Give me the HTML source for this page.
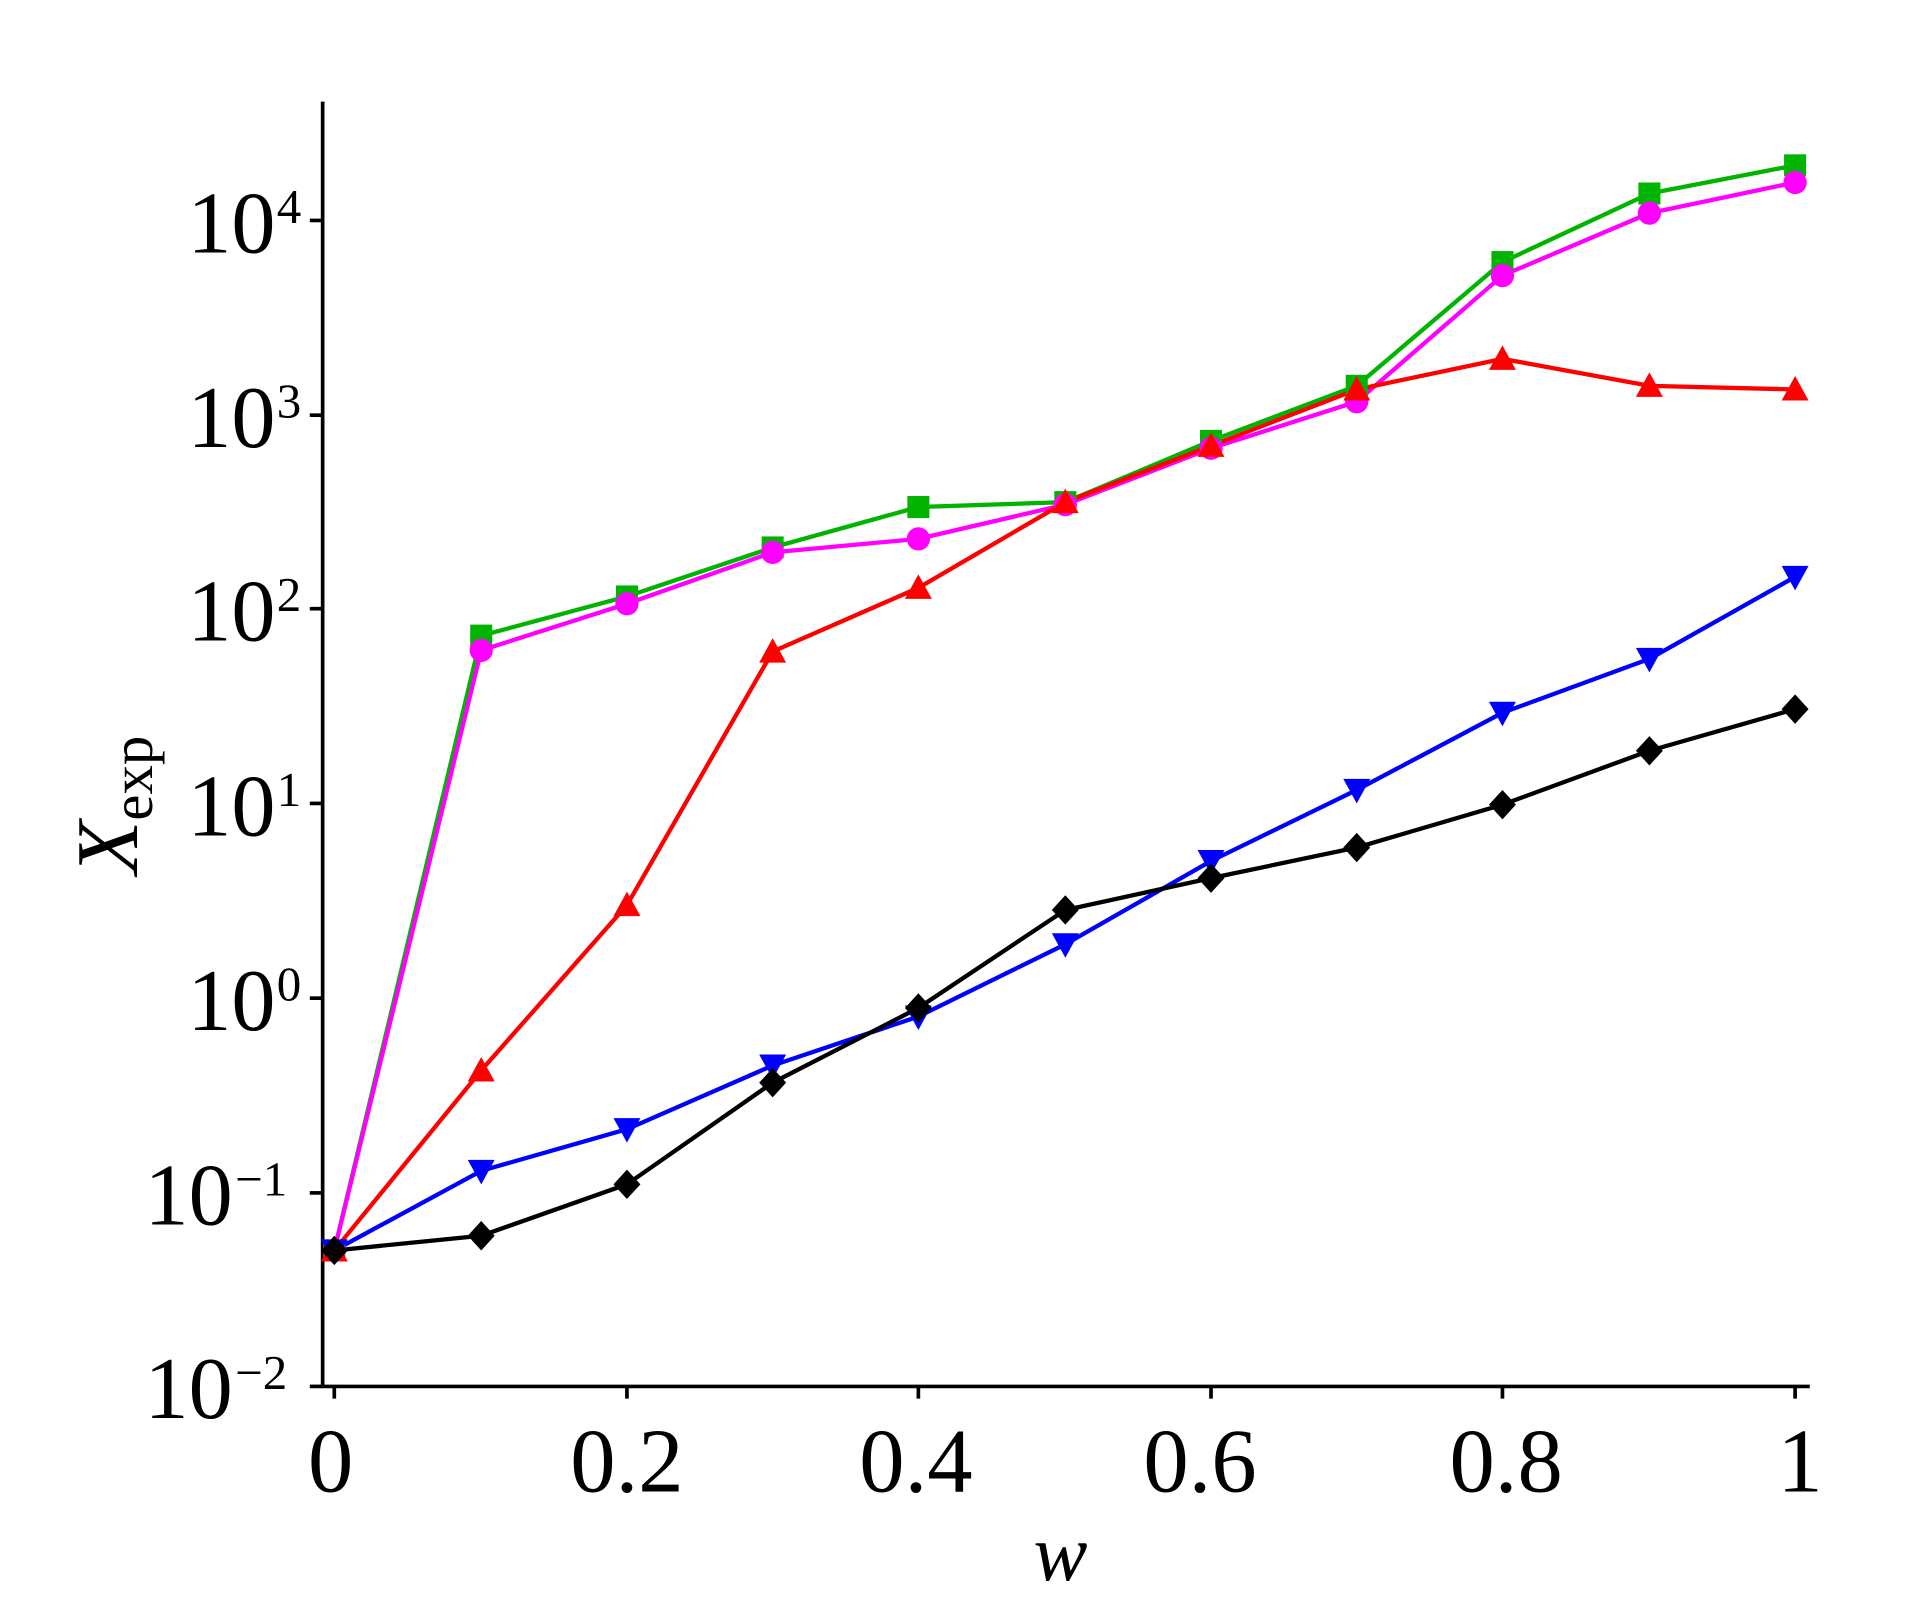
<!DOCTYPE html>
<html><head><meta charset="utf-8"><style>
html,body{margin:0;padding:0;background:#fff;}
svg{display:block;}
text{font-family:"Liberation Serif","Times New Roman",serif;fill:#000;}
</style></head><body>
<svg width="1920" height="1624" viewBox="0 0 1568 1326" preserveAspectRatio="none" xmlns="http://www.w3.org/2000/svg">
<defs>
<rect id="sq" x="-9" y="-9" width="18" height="18" fill="#00b400"/>
<circle id="ci" r="9.5" fill="#ff00ff"/>
<polygon id="tu" points="0,-11 11,9 -11,9" fill="#ff0000"/>
<polygon id="td" points="0,11 11,-9 -11,-9" fill="#0000ff"/>
<polygon id="di" points="0,-12 11,0 0,12 -11,0" fill="#000"/>
</defs>
<g stroke="#000" stroke-width="3" fill="none">
<line x1="263.5" y1="83" x2="263.5" y2="1133"/>
<line x1="262" y1="1132" x2="1478" y2="1132"/>
<line x1="253" y1="180" x2="263" y2="180"/>
<line x1="253" y1="339" x2="263" y2="339"/>
<line x1="253" y1="497" x2="263" y2="497"/>
<line x1="253" y1="656" x2="263" y2="656"/>
<line x1="253" y1="815" x2="263" y2="815"/>
<line x1="253" y1="974" x2="263" y2="974"/>
<line x1="253" y1="1132" x2="263" y2="1132"/>
<line x1="273" y1="1132" x2="273" y2="1142"/>
<line x1="512" y1="1132" x2="512" y2="1142"/>
<line x1="750" y1="1132" x2="750" y2="1142"/>
<line x1="989" y1="1132" x2="989" y2="1142"/>
<line x1="1227" y1="1132" x2="1227" y2="1142"/>
<line x1="1466" y1="1132" x2="1466" y2="1142"/>
</g>
<g font-size="72">
<text x="225" y="206" text-anchor="end">10</text><text x="226" y="182" font-size="40">4</text>
<text x="225" y="365" text-anchor="end">10</text><text x="226" y="341" font-size="40">3</text>
<text x="225" y="523" text-anchor="end">10</text><text x="226" y="499" font-size="40">2</text>
<text x="225" y="682" text-anchor="end">10</text><text x="226" y="658" font-size="40">1</text>
<text x="225" y="841" text-anchor="end">10</text><text x="226" y="817" font-size="40">0</text>
<text x="190" y="1000" text-anchor="end">10</text><text x="192" y="976" font-size="40">−1</text>
<text x="190" y="1158" text-anchor="end">10</text><text x="192" y="1134" font-size="40">−2</text>
</g>
<g font-size="74" text-anchor="middle">
<text x="270" y="1218">0</text>
<text x="512" y="1218">0.2</text>
<text x="748" y="1218">0.4</text>
<text x="980" y="1218">0.6</text>
<text x="1230" y="1218">0.8</text>
<text x="1470" y="1218">1</text>
</g>
<text x="866" y="1290" font-size="66" font-style="italic" text-anchor="middle">w</text>
<g transform="translate(112,714) rotate(-90)">
<text x="0" y="0" font-size="72" font-style="italic">X</text>
<text x="44" y="12" font-size="48">exp</text>
</g>
<g fill="none" stroke-width="3.5" stroke-linejoin="round">
<polyline stroke="#00b400" points="273,1021 393,519 512,487 631,447 750,414 870,410 989,360 1108,315 1227,214 1347,158 1466,135"/>
<polyline stroke="#ff00ff" points="273,1021 393,531 512,493 631,451 750,440 870,412 989,366 1108,328 1227,225 1347,174 1466,149"/>
<polyline stroke="#ff0000" points="273,1021 393,874 512,739 631,532 750,480 870,410 989,364 1108,318 1227,293 1347,315 1466,318"/>
<polyline stroke="#0000ff" points="273,1021 393,956 512,922 631,870 750,830 870,771 989,703 1108,645 1227,582 1347,538 1466,471"/>
<polyline stroke="#000" points="273,1021 393,1009 512,967 631,884 750,823 870,743 989,717 1108,692 1227,657 1347,613 1466,579"/>
</g>
<g>
<use href="#sq" x="273" y="1021"/><use href="#sq" x="393" y="519"/><use href="#sq" x="512" y="487"/><use href="#sq" x="631" y="447"/><use href="#sq" x="750" y="414"/><use href="#sq" x="870" y="410"/><use href="#sq" x="989" y="360"/><use href="#sq" x="1108" y="315"/><use href="#sq" x="1227" y="214"/><use href="#sq" x="1347" y="158"/><use href="#sq" x="1466" y="135"/>
<use href="#ci" x="273" y="1021"/><use href="#ci" x="393" y="531"/><use href="#ci" x="512" y="493"/><use href="#ci" x="631" y="451"/><use href="#ci" x="750" y="440"/><use href="#ci" x="870" y="412"/><use href="#ci" x="989" y="366"/><use href="#ci" x="1108" y="328"/><use href="#ci" x="1227" y="225"/><use href="#ci" x="1347" y="174"/><use href="#ci" x="1466" y="149"/>
<use href="#tu" x="273" y="1021"/><use href="#tu" x="393" y="874"/><use href="#tu" x="512" y="739"/><use href="#tu" x="631" y="532"/><use href="#tu" x="750" y="480"/><use href="#tu" x="870" y="410"/><use href="#tu" x="989" y="364"/><use href="#tu" x="1108" y="318"/><use href="#tu" x="1227" y="293"/><use href="#tu" x="1347" y="315"/><use href="#tu" x="1466" y="318"/>
<use href="#td" x="273" y="1021"/><use href="#td" x="393" y="956"/><use href="#td" x="512" y="922"/><use href="#td" x="631" y="870"/><use href="#td" x="750" y="830"/><use href="#td" x="870" y="771"/><use href="#td" x="989" y="703"/><use href="#td" x="1108" y="645"/><use href="#td" x="1227" y="582"/><use href="#td" x="1347" y="538"/><use href="#td" x="1466" y="471"/>
<use href="#di" x="273" y="1021"/><use href="#di" x="393" y="1009"/><use href="#di" x="512" y="967"/><use href="#di" x="631" y="884"/><use href="#di" x="750" y="823"/><use href="#di" x="870" y="743"/><use href="#di" x="989" y="717"/><use href="#di" x="1108" y="692"/><use href="#di" x="1227" y="657"/><use href="#di" x="1347" y="613"/><use href="#di" x="1466" y="579"/>
</g>
</svg>
</body></html>
